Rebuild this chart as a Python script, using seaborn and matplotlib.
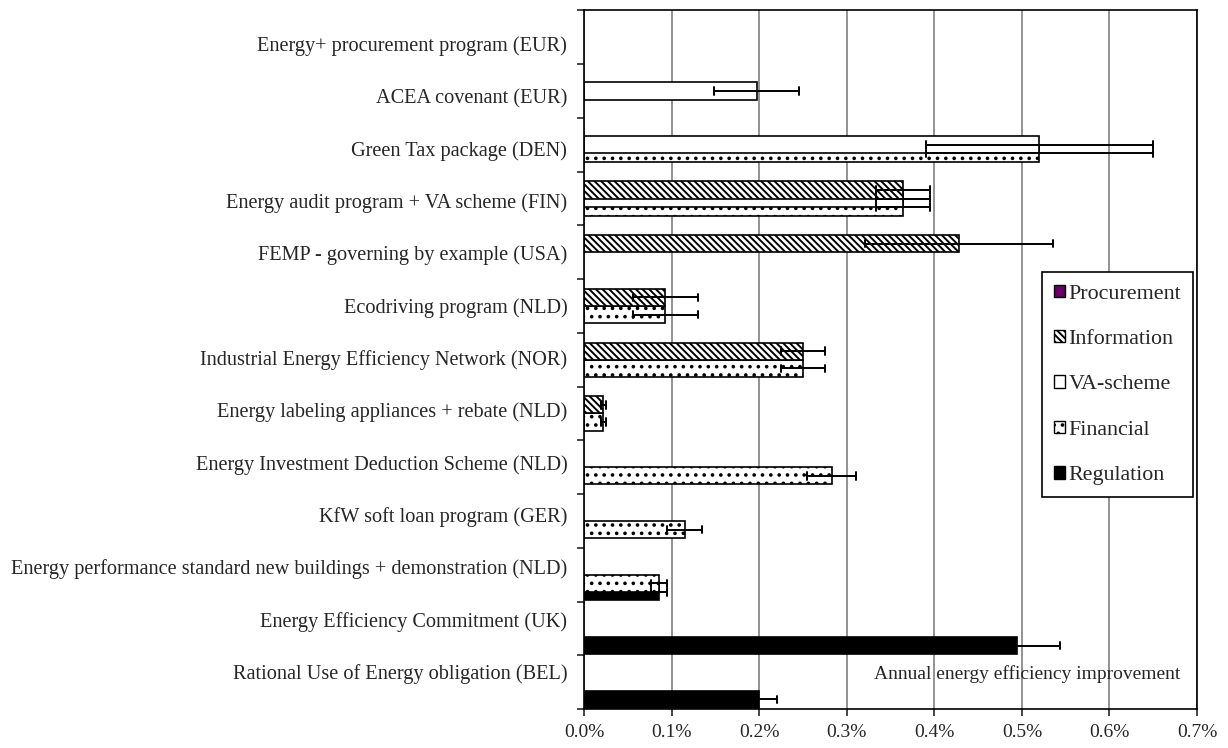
import numpy as np
import pandas as pd
import matplotlib
matplotlib.use('Agg')
import matplotlib.pyplot as plt
from matplotlib.patches import Patch
from matplotlib.ticker import MultipleLocator, FuncFormatter
import seaborn as sns

# programs, top to bottom
programs = ['Energy+ procurement program (EUR)',
            'ACEA covenant (EUR)',
            'Green Tax package (DEN)',
            'Energy audit program + VA scheme (FIN)',
            'FEMP - governing by example (USA)',
            'Ecodriving program (NLD)',
            'Industrial Energy Efficiency Network (NOR)',
            'Energy labeling appliances + rebate (NLD)',
            'Energy Investment Deduction Scheme (NLD)',
            'KfW soft loan program (GER)',
            'Energy performance standard new buildings + demonstration (NLD)',
            'Energy Efficiency Commitment (UK)',
            'Rational Use of Energy obligation (BEL)']

types = ['Procurement', 'Information', 'VA-scheme', 'Financial', 'Regulation']
nan = np.nan

# annual energy efficiency improvement (%) and error half-widths
procurement = [nan] * 13
procurement_err = [nan] * 13
information = [nan, nan, nan, 0.364, 0.428, 0.093, 0.250, 0.022, nan, nan, nan, nan, nan]
information_err = [nan, nan, nan, 0.031, 0.107, 0.037, 0.025, 0.003, nan, nan, nan, nan, nan]
va_scheme = [nan, 0.197, 0.520, 0.364, nan, nan, nan, nan, nan, nan, nan, nan, nan]
va_scheme_err = [nan, 0.049, 0.130, 0.031, nan, nan, nan, nan, nan, nan, nan, nan, nan]
financial = [nan, nan, 0.520, 0.364, nan, 0.093, 0.250, 0.022, 0.283, 0.115, 0.086, nan, nan]
financial_err = [nan, nan, 0.130, 0.031, nan, 0.037, 0.025, 0.003, 0.028, 0.020, 0.009, nan, nan]
regulation = [nan, nan, nan, nan, nan, nan, nan, nan, nan, nan, 0.086, 0.494, 0.200]
regulation_err = [nan, nan, nan, nan, nan, nan, nan, nan, nan, nan, 0.009, 0.049, 0.020]

series = {'Procurement': (procurement, procurement_err),
          'Information': (information, information_err),
          'VA-scheme': (va_scheme, va_scheme_err),
          'Financial': (financial, financial_err),
          'Regulation': (regulation, regulation_err)}

# two rows per bar (value - err, value + err): mean is the bar, min-max the error bar
rows = []
for t in types:
    vals, errs = series[t]
    for p, v, e in zip(programs, vals, errs):
        if not np.isnan(v):
            rows.append((p, t, v - e))
            rows.append((p, t, v + e))
df = pd.DataFrame(rows, columns=['Program', 'Type', 'Value'])

colors = {'Procurement': '#660066', 'Information': 'white', 'VA-scheme': 'white',
          'Financial': 'white', 'Regulation': 'black'}
hatches = {'Procurement': '', 'Information': '\\\\\\\\\\', 'VA-scheme': '',
           'Financial': '..', 'Regulation': ''}

sns.set_style('white')
plt.rcParams['font.family'] = ['Liberation Serif', 'DejaVu Serif']
plt.rcParams['hatch.linewidth'] = 1.4

fig = plt.figure(figsize=(12.28, 7.48), dpi=100)
ax = fig.add_axes([0.4756, 0.0521, 0.4992, 0.9339])

sns.barplot(data=df, x='Value', y='Program', hue='Type', order=programs, hue_order=types,
            orient='h', estimator='mean', errorbar=('pi', 100), dodge=True, width=0.8,
            capsize=0.7, err_kws={'color': 'black', 'linewidth': 1.4}, palette=colors,
            saturation=1, edgecolor='black', linewidth=1.2, legend=False, ax=ax)

# overlapping bars: double each bar's thickness, later types underneath.
# the type of a bar follows from its slot inside the category band
step = 0.8 / len(types)
for bar in ax.patches:
    h = bar.get_height()
    c = bar.get_y() + h / 2
    k = int(round((c - round(c)) / step)) + 2
    t = types[k]
    bar.set_y(c - h)
    bar.set_height(2 * h)
    bar.set_hatch(hatches[t])
    bar.set_facecolor(colors[t])
    bar.set_zorder(1 + (4 - k) * 0.1)

ax.set_xlim(0, 0.7)
ax.set_ylim(12.5, -0.5)
ax.xaxis.set_major_locator(MultipleLocator(0.1))
ax.xaxis.set_major_formatter(FuncFormatter(lambda v, pos: f'{v:.1f}%'))
# labels in the original sit on a slightly tighter pitch than the bars
ax.set_yticks(np.linspace(0.12, 11.8, len(programs)))
ax.set_yticklabels(programs)
ax.set_yticks(np.arange(-0.5, 12.6, 1), minor=True)
ax.tick_params(axis='y', which='major', length=0, pad=12, labelsize=14.6)
ax.tick_params(axis='y', which='minor', length=5, width=1.2, direction='out', left=True)
ax.tick_params(axis='x', length=5, width=1.2, direction='out', bottom=True, labelsize=14, pad=6)
ax.set_xlabel('')
ax.set_ylabel('')
ax.grid(axis='x', color='#808080', linewidth=1.2)
ax.set_axisbelow(True)
for s in ax.spines.values():
    s.set_color('black')
    s.set_linewidth(1.2)

ax.text(0.681, 11.85, 'Annual energy efficiency improvement', ha='right', va='center', fontsize=14)

handles = [Patch(facecolor=colors[t], edgecolor='black', hatch=hatches[t], label=t) for t in types]
leg = ax.legend(handles=handles, loc='upper left', bbox_to_anchor=(0.747, 0.625), fontsize=15.8,
                frameon=True, fancybox=False, edgecolor='black', framealpha=1,
                handlelength=0.5, handleheight=0.5, handletextpad=0.15, labelspacing=1.2,
                borderpad=0.55, borderaxespad=0)
leg.get_frame().set_linewidth(1.2)

fig.savefig('out.png', dpi=100)
